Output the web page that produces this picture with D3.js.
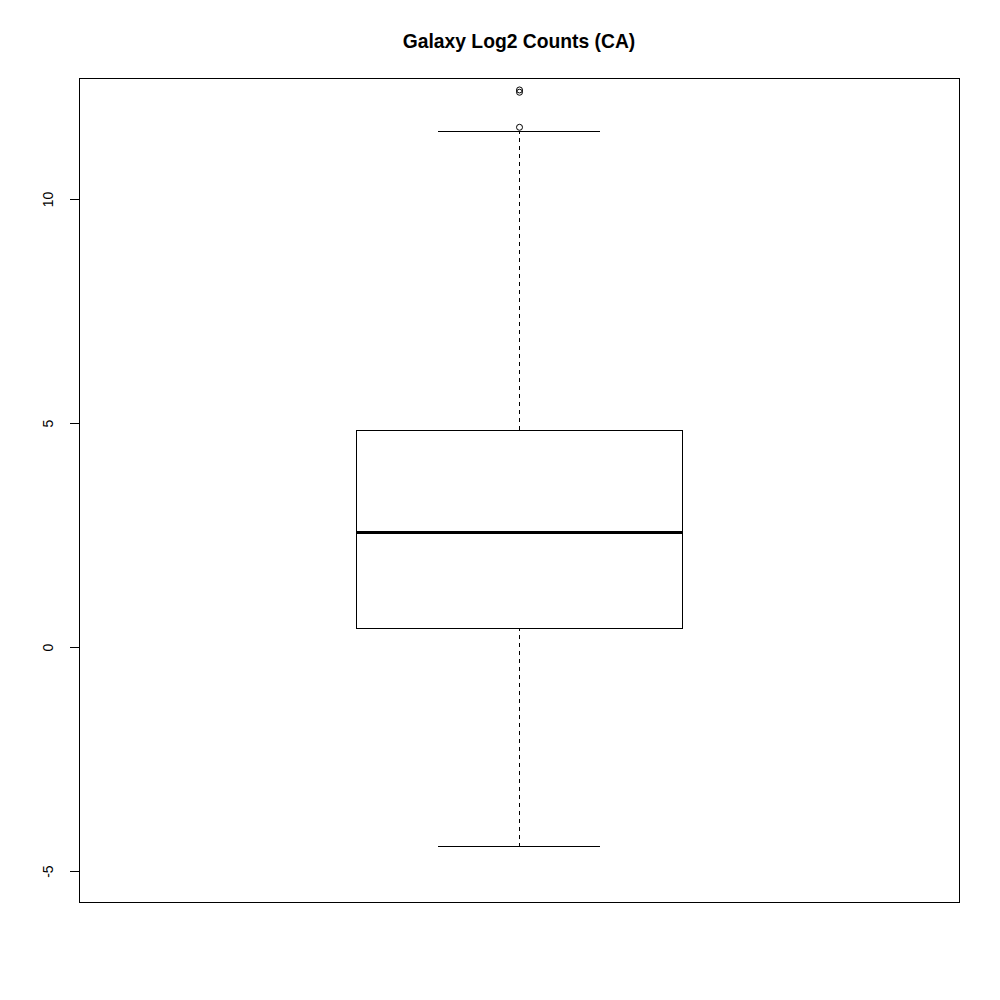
<!DOCTYPE html>
<html><head><meta charset="utf-8">
<script src="https://cdn.jsdelivr.net/npm/d3@7"></script>
<style>body{margin:0;background:#fff}svg{display:block}</style>
</head><body>
<script>
const title = "Galaxy Log2 Counts (CA)";
const yTicks = [-5, 0, 5, 10];
const stats = [{lowWhisker: -4.442, q1: 0.446, median: 2.567, q3: 4.855, highWhisker: 11.518}];
const outliers = [11.60, 12.382, 12.433];

const W = 1000, H = 1000;
const L = 79, R = 959, T = 78, B = 902;
const svg = d3.select("body").append("svg").attr("width", W).attr("height", H);
svg.append("rect").attr("width", W).attr("height", H).attr("fill", "#fff");

const y = d3.scaleLinear().domain([-5.69, 12.70]).range([B, T]);
const x = d3.scaleLinear().domain([0.46, 1.54]).range([L, R]);

svg.append("rect").attr("x", L + 0.5).attr("y", T + 0.5).attr("width", R - L).attr("height", B - T)
  .attr("fill", "none").attr("stroke", "#000").attr("stroke-width", 1).attr("shape-rendering", "crispEdges");

const axis = d3.axisLeft(y).tickValues(yTicks).tickSize(10).tickPadding(0).tickFormat(d => String(d));
const g = svg.append("g").attr("transform", `translate(${L + 0.5},0)`).call(axis);
g.select(".domain").remove();
g.selectAll(".tick line").attr("stroke", "#000").attr("shape-rendering", "crispEdges");
g.selectAll(".tick text").attr("fill", "#000").attr("font-family", "Liberation Sans, Arial, sans-serif")
  .attr("font-size", 14).attr("text-anchor", "middle").attr("x", 0).attr("dy", 0)
  .attr("transform", "translate(-30,0) rotate(-90)").attr("dominant-baseline", "middle");

svg.append("text").attr("x", 519).attr("y", 48).attr("text-anchor", "middle")
  .attr("font-family", "Liberation Sans, Arial, sans-serif").attr("font-weight", "bold").attr("font-size", 19.3)
  .text(title);

const bw = 0.4;
const px = v => Math.round(v) + 0.5;
stats.forEach((s, i) => {
  const cx = px(x(1 + i));
  const bx0 = x(1 + i - bw / 2), bx1 = x(1 + i + bw / 2);
  const wx0 = x(1 + i - bw / 4), wx1 = x(1 + i + bw / 4);
  const gg = svg.append("g");
  gg.append("line").attr("x1", cx).attr("x2", cx).attr("y1", y(s.q3)).attr("y2", y(s.highWhisker))
    .attr("stroke", "#000").attr("stroke-dasharray", "4,4").attr("shape-rendering", "crispEdges");
  gg.append("line").attr("x1", cx).attr("x2", cx).attr("y1", y(s.q1)).attr("y2", y(s.lowWhisker))
    .attr("stroke", "#000").attr("stroke-dasharray", "4,4").attr("shape-rendering", "crispEdges");
  gg.append("line").attr("x1", wx0).attr("x2", wx1).attr("y1", px(y(s.highWhisker))).attr("y2", px(y(s.highWhisker)))
    .attr("stroke", "#000").attr("shape-rendering", "crispEdges");
  gg.append("line").attr("x1", wx0).attr("x2", wx1).attr("y1", px(y(s.lowWhisker))).attr("y2", px(y(s.lowWhisker)))
    .attr("stroke", "#000").attr("shape-rendering", "crispEdges");
  gg.append("rect").attr("x", px(bx0)).attr("y", px(y(s.q3))).attr("width", Math.round(bx1 - bx0))
    .attr("height", Math.round(y(s.q1) - y(s.q3)))
    .attr("fill", "#fff").attr("stroke", "#000").attr("shape-rendering", "crispEdges");
  gg.append("line").attr("x1", bx0).attr("x2", bx1).attr("y1", Math.round(y(s.median))).attr("y2", Math.round(y(s.median)))
    .attr("stroke", "#000").attr("stroke-width", 3).attr("shape-rendering", "crispEdges");
  gg.selectAll("circle").data(outliers).enter().append("circle")
    .attr("cx", cx).attr("cy", d => y(d)).attr("r", 3).attr("fill", "none").attr("stroke", "#000");
});
</script>
</body></html>
